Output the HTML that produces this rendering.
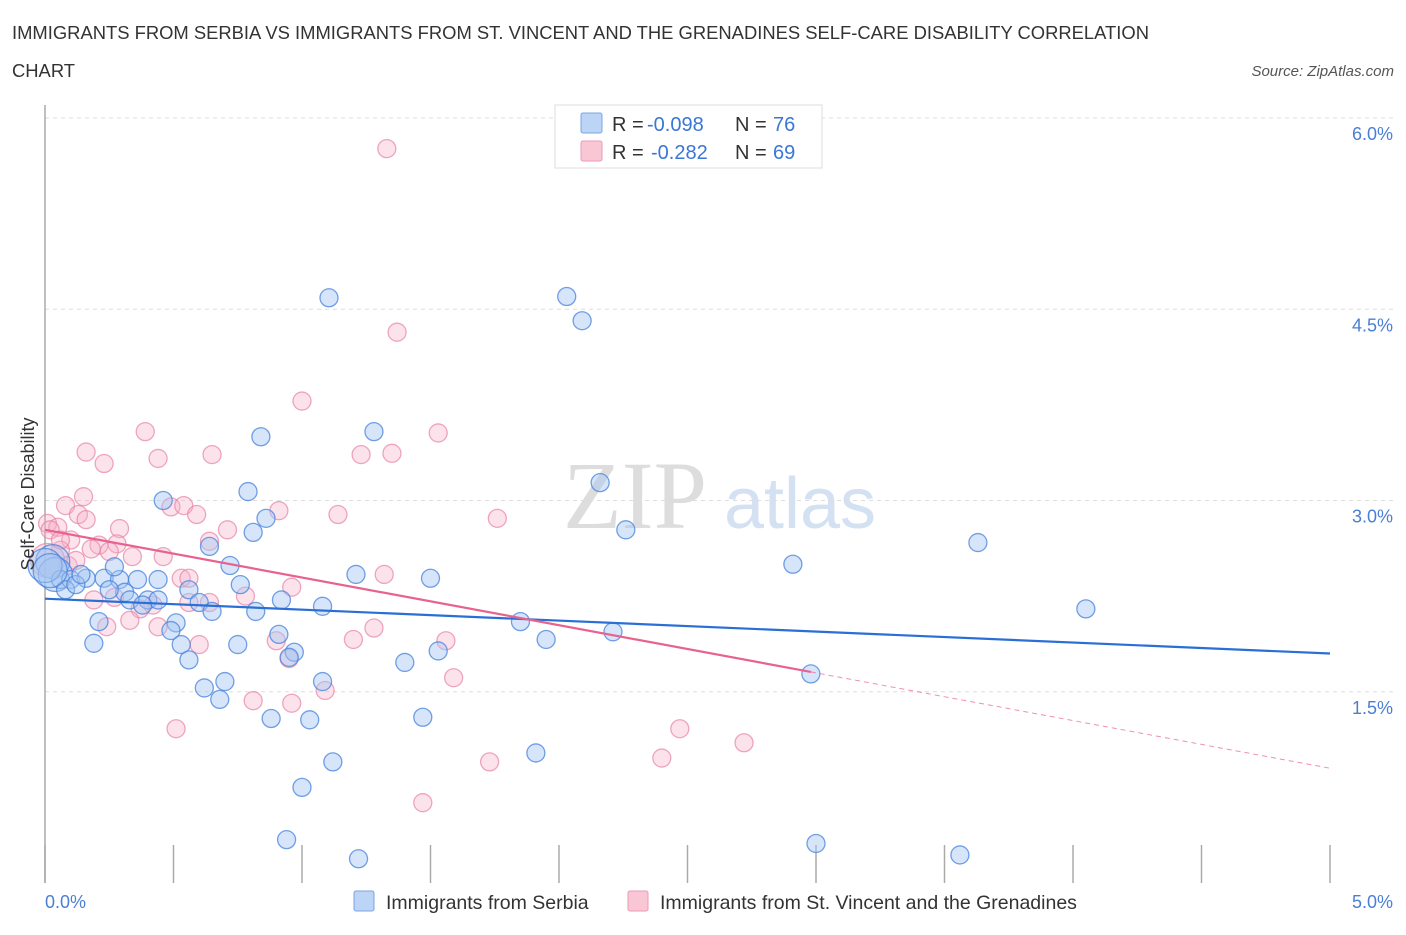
<!DOCTYPE html>
<html><head><meta charset="utf-8"><style>
body{margin:0;background:#fff;font-family:"Liberation Sans",sans-serif}
</style></head><body>
<svg width="1406" height="930" xmlns="http://www.w3.org/2000/svg" font-family="Liberation Sans, sans-serif">
<text x="12" y="39" font-size="18.4" fill="#333">IMMIGRANTS FROM SERBIA VS IMMIGRANTS FROM ST. VINCENT AND THE GRENADINES SELF-CARE DISABILITY CORRELATION</text>
<text x="12" y="77" font-size="18.4" fill="#333">CHART</text>
<text x="1394" y="76" font-size="15" fill="#555" font-style="italic" text-anchor="end">Source: ZipAtlas.com</text>
<text x="635" y="528" font-size="96" fill="#ddd" font-family="Liberation Serif, serif" text-anchor="middle">ZIP</text>
<text x="800" y="528" font-size="72" fill="#d3e1f3" text-anchor="middle">atlas</text>
<g id="grid"></g><g id="marks"></g><g id="lines"></g>
<text transform="translate(34,494) rotate(-90)" font-size="18" fill="#333" text-anchor="middle">Self-Care Disability</text>
<text x="45" y="908" font-size="18" fill="#4a7fd4">0.0%</text>
<text x="1393" y="908" font-size="18" fill="#4a7fd4" text-anchor="end">5.0%</text>
<g>
<rect x="555" y="105" width="267" height="63" fill="#fff" stroke="#ddd"/>
<rect x="581" y="113" width="21" height="20" fill="#bcd4f6" stroke="#7aa6e6" rx="2"/>
<rect x="581" y="141" width="21" height="20" fill="#f9c6d6" stroke="#ee9ab4" rx="2"/>
<text x="612" y="131" font-size="20" fill="#333">R =</text>
<text x="647" y="131" font-size="20" fill="#3a76d6">-0.098</text>
<text x="735" y="131" font-size="20" fill="#333">N =</text>
<text x="773" y="131" font-size="20" fill="#3a76d6">76</text>
<text x="612" y="159" font-size="20" fill="#333">R =</text>
<text x="651" y="159" font-size="20" fill="#3a76d6">-0.282</text>
<text x="735" y="159" font-size="20" fill="#333">N =</text>
<text x="773" y="159" font-size="20" fill="#3a76d6">69</text>
</g>
<g>
<rect x="354" y="891" width="20" height="20" fill="#bcd4f6" stroke="#7aa6e6" rx="2"/>
<text x="386" y="909" font-size="19.5" fill="#333">Immigrants from Serbia</text>
<rect x="628" y="891" width="20" height="20" fill="#f9c6d6" stroke="#ee9ab4" rx="2"/>
<text x="660" y="909" font-size="19.5" fill="#333">Immigrants from St. Vincent and the Grenadines</text>
</g>
</svg>
<script>
const yTicks=[1.5,3.0,4.5,6.0];
const xTickCount=10;
const serbiaX=[1.105,2.03,2.09,1.28,0.84,2.16,0.46,0.79,0.86,0.81,0.64,2.26,3.63,2.91,4.05,0.72,1.21,1.50,0.76,0.03,0.04,0.06,0.10,0.16,0.23,0.29,0.36,0.44,0.56,0.27,0.31,0.40,0.44,0.33,0.38,0.60,0.65,0.82,0.92,1.08,0.21,0.51,0.49,1.85,1.95,2.21,0.91,0.19,0.53,0.75,0.97,0.95,0.56,1.40,1.53,2.98,0.70,0.62,1.08,0.68,0.88,1.03,1.47,1.91,1.12,1.00,0.94,1.22,3.00,3.56,0.08,0.12,0.14,0.00,0.02,0.25];
const serbiaY=[4.59,4.60,4.41,3.54,3.50,3.14,3.00,3.07,2.86,2.75,2.64,2.77,2.67,2.50,2.15,2.49,2.42,2.39,2.34,2.52,2.42,2.38,2.38,2.39,2.39,2.38,2.38,2.38,2.30,2.48,2.28,2.22,2.22,2.22,2.18,2.20,2.13,2.13,2.22,2.17,2.05,2.04,1.98,2.05,1.91,1.97,1.95,1.88,1.87,1.87,1.81,1.77,1.75,1.73,1.82,1.64,1.58,1.53,1.58,1.44,1.29,1.28,1.30,1.02,0.95,0.75,0.34,0.19,0.31,0.22,2.30,2.34,2.42,2.49,2.45,2.30];
const vincentX=[1.33,1.37,1.00,0.39,1.53,0.16,0.44,0.65,1.23,1.35,0.23,0.15,0.08,0.13,0.49,0.54,0.91,1.14,1.76,0.01,0.05,0.29,0.59,0.71,0.64,0.10,0.21,0.28,0.34,0.46,0.06,0.18,0.25,0.01,0.09,0.53,0.56,0.96,1.32,0.78,0.19,0.27,0.42,0.56,0.64,0.37,0.33,0.24,0.44,1.28,1.20,1.56,0.90,0.60,0.95,1.59,1.09,0.81,0.96,0.51,2.47,2.72,1.73,2.40,1.47,0.02,0.06,0.12,0.16];
const vincentY=[5.76,4.32,3.78,3.54,3.53,3.38,3.33,3.36,3.36,3.37,3.29,3.03,2.96,2.89,2.95,2.96,2.92,2.89,2.86,2.82,2.79,2.78,2.89,2.77,2.68,2.69,2.65,2.66,2.56,2.56,2.61,2.62,2.60,2.53,2.49,2.39,2.39,2.32,2.42,2.25,2.22,2.24,2.18,2.20,2.20,2.15,2.06,2.01,2.01,2.00,1.91,1.90,1.90,1.87,1.76,1.61,1.51,1.43,1.41,1.21,1.21,1.10,0.95,0.98,0.63,2.77,2.69,2.53,2.85];
const trendIntercept=[2.23,2.77];
const trendSlope=[-0.086,-0.374];
const trendSolidEnd=[5.0,2.98];

const X0=45,X1=1330,Y0=883,PXPER=127.5;
function sx(v){return X0+(X1-X0)*v/5;}
function sy(v){return Y0-v*PXPER;}
const NS='http://www.w3.org/2000/svg';
function mk(tag,attrs,parent){const e=document.createElementNS(NS,tag);for(const k in attrs)e.setAttribute(k,attrs[k]);parent.appendChild(e);return e;}
const grid=document.getElementById('grid'),marks=document.getElementById('marks'),lines=document.getElementById('lines');
yTicks.forEach((t,i)=>{
  const l=mk('line',{x1:X0,x2:1395,y1:sy(t),y2:sy(t),stroke:'#ddd','stroke-dasharray':'4,4'},grid);
  
  
  const tx=mk('text',{x:1393,y:sy(t)+22,'font-size':18,fill:'#4a7fd4','text-anchor':'end'},grid);
  tx.textContent=t.toFixed(1)+'%';
  
  
});
const ax=mk('line',{x1:X0,x2:X0,y1:105,y2:Y0,stroke:'#aaa','stroke-width':1.5},grid);


for(let i=0;i<=xTickCount;i++){
  const x=sx(5*i/xTickCount);
  const tk=mk('line',{x1:x,x2:x,y1:845,y2:Y0,stroke:'#aaa','stroke-width':1.5},grid);
  
  
}
function drawPts(xs,ys,fill,stroke,name){
  xs.forEach((v,i)=>{
    const r=(v<0.05&&Math.abs(ys[i]-2.5)<0.1)?17:9;
    const c=mk('circle',{cx:sx(v),cy:sy(ys[i]),r:r,fill:fill,stroke:stroke,'stroke-width':1.3},marks);
    
    
  });
}
drawPts(vincentX,vincentY,'rgba(246,176,199,0.35)','rgba(232,130,165,0.7)','vincent-point');
drawPts(serbiaX,serbiaY,'rgba(165,198,242,0.45)','rgba(70,130,220,0.75)','serbia-point');
const colors=['#2a6fd6','#e8628f'];
trendIntercept.forEach((b,i)=>{
  const m=trendSlope[i],e=trendSolidEnd[i];
  const l=mk('line',{x1:sx(0),y1:sy(b),x2:sx(e),y2:sy(b+m*e),stroke:colors[i],'stroke-width':2.2},lines);
  
  
  if(e<5){
    const d=mk('line',{x1:sx(e),y1:sy(b+m*e),x2:sx(5),y2:sy(b+m*5),stroke:colors[i],'stroke-width':1,'stroke-dasharray':'5,4','opacity':0.7},lines);
    
    
  }
});
</script>
</body></html>
